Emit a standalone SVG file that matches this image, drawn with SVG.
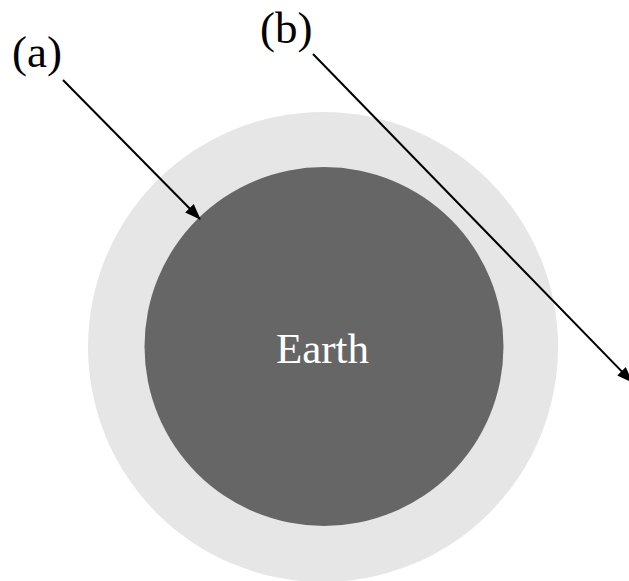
<svg xmlns="http://www.w3.org/2000/svg" width="629" height="581" viewBox="0 0 629 581">
<style>
.lbl{font-family:"Liberation Serif","Times New Roman",serif;font-size:45px;fill:#000}
.ray{stroke:#000;stroke-width:2;fill:none}
</style>
<defs>
<marker id="ah" markerWidth="16" markerHeight="12" refX="15" refY="6" orient="auto" markerUnits="userSpaceOnUse">
<path d="M0,0 L16,6 L0,12 Z" fill="#000"/>
</marker>
</defs>
<rect width="629" height="581" fill="#fff"/>
<g id="atmosphere"><circle cx="323" cy="347" r="235" fill="#e6e6e6"/></g>
<g id="earth">
<circle cx="324" cy="346.5" r="179.5" fill="#666666"/>
<text x="322.5" y="363" text-anchor="middle" style="font-family:'Liberation Serif','Times New Roman',serif;font-size:43px;fill:#fff">Earth</text>
</g>
<g id="label-a"><text class="lbl" x="12" y="67">(a)</text></g>
<g id="label-b"><text class="lbl" x="260" y="43">(b)</text></g>
<g id="connectors">
<line class="ray" x1="63" y1="80" x2="200" y2="219" marker-end="url(#ah)"/>
<line class="ray" x1="313" y1="54" x2="632" y2="382" marker-end="url(#ah)"/>
</g>
</svg>
